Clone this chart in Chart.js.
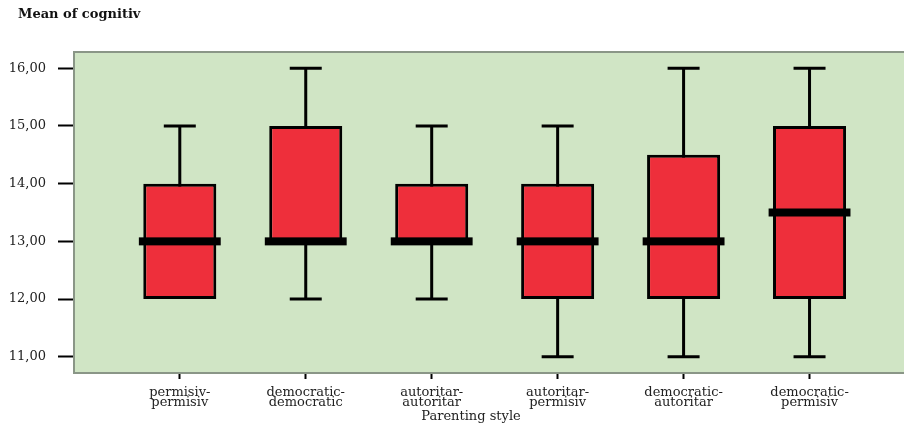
<!DOCTYPE html>
<html>
<head>
<meta charset="utf-8">
<script src="https://cdn.jsdelivr.net/npm/chart.js@4"></script>
<style>
  html, body { margin: 0; padding: 0; background: #fff; }
  #wrap { width: 904px; height: 425px; position: relative; }
</style>
</head>
<body>
<div id="wrap"><canvas id="myChart"></canvas></div>
<script>
// parenting style groups (two-line labels)
const categories = [
    ['permisiv-', 'permisiv'],
    ['democratic-', 'democratic'],
    ['autoritar-', 'autoritar'],
    ['autoritar-', 'permisiv'],
    ['democratic-', 'autoritar'],
    ['democratic-', 'permisiv']
];
// box plot values
const mins    = [12, 12, 12, 11, 11, 11];
const q1s     = [12, 13, 13, 12, 12, 12];
const medians = [13, 13, 13, 13, 13, 13.5];
const q3s     = [14, 15, 14, 14, 14.5, 15];
const maxs    = [15, 16, 15, 15, 16, 16];
const yTicks  = [11, 12, 13, 14, 15, 16];

const boxData = categories.map((c, i) => ({x: i, y: [q1s[i], q3s[i]]}));

// green plot area + frame, title, axis title
const frame = {
    id: 'frame',
    beforeDraw(chart) {
        const {ctx, chartArea: a} = chart;
        ctx.save();
        ctx.fillStyle = '#d0e5c5';
        ctx.fillRect(a.left, a.top, a.right - a.left, a.bottom - a.top);
        ctx.restore();
    },
    afterDraw(chart) {
        const {ctx, chartArea: a} = chart;
        ctx.save();
        ctx.strokeStyle = '#8a9687';
        ctx.lineWidth = 2;
        ctx.strokeRect(a.left, a.top, a.right - a.left + 2, a.bottom - a.top);
        ctx.fillStyle = '#111';
        ctx.font = 'bold 13px "DejaVu Serif"';
        ctx.textBaseline = 'middle';
        ctx.fillText('Mean of cognitiv', 18, 15);
        ctx.font = '13px "DejaVu Serif"';
        ctx.textAlign = 'center';
        ctx.fillStyle = '#222';
        ctx.fillText('Parenting style', 471, 417);
        ctx.restore();
    }
};

// whiskers behind the boxes, median bars on top
const whiskers = {
    id: 'whiskers',
    beforeDatasetsDraw(chart) {
        const {ctx, scales: {x, y}} = chart;
        ctx.save();
        ctx.strokeStyle = '#000';
        ctx.lineWidth = 3;
        mins.forEach((mn, i) => {
            const cx = x.getPixelForValue(i);
            const half = (x.getPixelForValue(i + 0.127) - x.getPixelForValue(i - 0.127)) / 2;
            ctx.beginPath();
            ctx.moveTo(cx, y.getPixelForValue(mn));
            ctx.lineTo(cx, y.getPixelForValue(maxs[i]));
            if (mn < q1s[i]) {
                ctx.moveTo(cx - half, y.getPixelForValue(mn));
                ctx.lineTo(cx + half, y.getPixelForValue(mn));
            }
            if (maxs[i] > q3s[i]) {
                ctx.moveTo(cx - half, y.getPixelForValue(maxs[i]));
                ctx.lineTo(cx + half, y.getPixelForValue(maxs[i]));
            }
            ctx.stroke();
        });
        ctx.restore();
    },
    afterDatasetsDraw(chart) {
        const {ctx, scales: {x, y}} = chart;
        ctx.save();
        ctx.fillStyle = '#000';
        medians.forEach((m, i) => {
            const l = x.getPixelForValue(i - 0.325);
            const r = x.getPixelForValue(i + 0.325);
            const py = y.getPixelForValue(m);
            ctx.fillRect(l, py - 4, r - l, 8);
        });
        ctx.restore();
    }
};

var context = document.getElementById('myChart');
var boxChart = new Chart(context, {
    type: 'bar',
    data: {
        datasets: [{
            label: 'Mean of cognitiv',
            data: boxData,
            backgroundColor: '#ee2f3b',
            borderColor: '#000',
            borderWidth: 3,
            borderSkipped: false,
            categoryPercentage: 1,
            barPercentage: 0.58
        }]
    },
    options: {
        responsive: true,
        maintainAspectRatio: false,
        animation: false,
        layout: { padding: { top: 52, right: 0, left: 0, bottom: 0 } },
        plugins: {
            legend: { display: false },
            tooltip: { enabled: false },
            title: { display: false }
        },
        scales: {
            x: {
                type: 'linear',
                min: -0.84,
                max: 5.75,
                offset: false,
                afterFit(scale) { scale.height = 52; },
                afterBuildTicks(scale) {
                    scale.ticks = categories.map((c, i) => ({value: i}));
                },
                border: { display: false },
                grid: {
                    offset: false,
                    drawOnChartArea: false,
                    drawTicks: true,
                    tickLength: 6,
                    tickWidth: 2,
                    tickColor: '#000'
                },
                ticks: {
                    padding: 8,
                    maxRotation: 0,
                    autoSkip: false,
                    color: '#222',
                    font: { family: 'DejaVu Serif', size: 13, lineHeight: 0.82 },
                    callback: (v) => categories[v]
                }
            },
            y: {
                min: 10.72,
                max: 16.28,
                afterFit(scale) { scale.width = 74; },
                afterBuildTicks(scale) {
                    scale.ticks = yTicks.map(v => ({value: v}));
                },
                border: { display: false },
                grid: {
                    drawOnChartArea: false,
                    drawTicks: true,
                    tickLength: 16,
                    tickWidth: 2,
                    tickColor: '#000'
                },
                ticks: {
                    padding: 12,
                    color: '#222',
                    font: { family: 'DejaVu Serif', size: 13 },
                    callback: (v) => v.toFixed(2).replace('.', ',')
                }
            }
        }
    },
    plugins: [frame, whiskers]
});
</script>
</body>
</html>
